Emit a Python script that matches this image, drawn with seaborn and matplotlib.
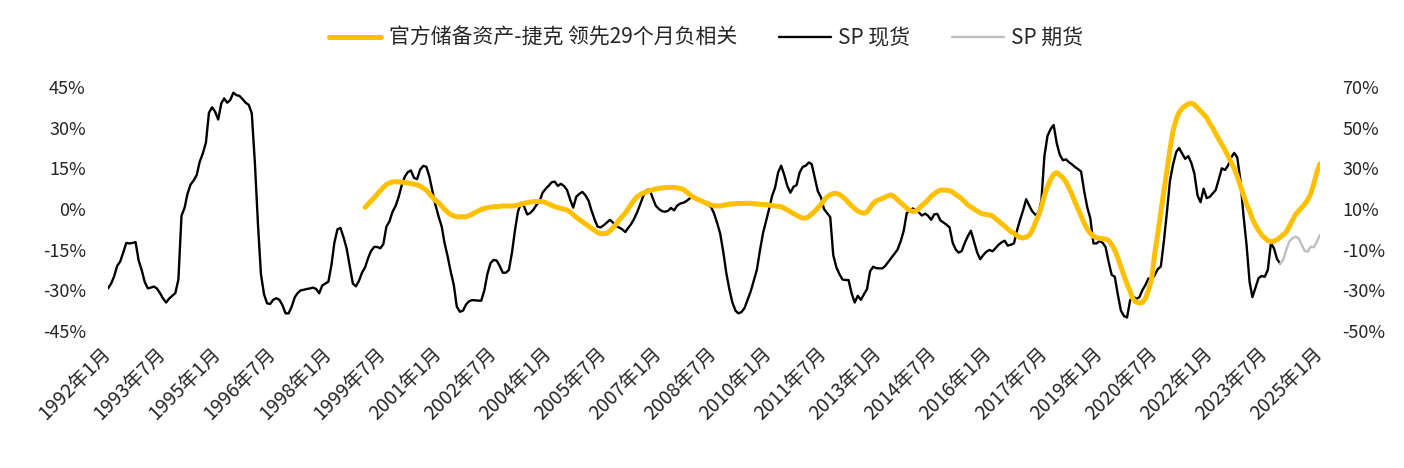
import pandas as pd
import matplotlib
matplotlib.use("Agg")
import matplotlib.pyplot as plt
from matplotlib.lines import Line2D
from matplotlib.ticker import FuncFormatter
import seaborn as sns

sns.set_theme(style="white")
plt.rcParams["font.family"] = ["Noto Sans CJK SC", "DejaVu Sans"]
plt.rcParams["axes.unicode_minus"] = False

# ---- data -------------------------------------------------------------
label_reserve = "官方储备资产-捷克 领先29个月负相关"
label_spot = "SP 现货"
label_futures = "SP 期货"

# SP spot, monthly YoY %, 1992-01 .. 2023-12 (left axis)
spot_start = "1992-01-01"
spot_values = [
    -29.3, -27.5, -25.0, -21.0, -19.4, -16.0, -12.5, -12.7, -12.5, -12.2, -19.0, -22.5,
    -27.0, -29.3, -29.0, -28.6, -29.3, -31.0, -33.0, -34.5, -33.0, -32.0, -31.0, -26.0,
    -2.5, 0.5, 5.5, 9.0, 10.5, 12.5, 17.4, 20.5, 24.5, 35.5, 37.5, 35.9,
    33.0, 39.0, 40.8, 39.2, 40.2, 42.9, 42.0, 41.7, 40.5, 39.2, 38.4, 35.3,
    16.9, -6.0, -24.0, -31.5, -34.8, -35.0, -33.5, -32.9, -33.5, -35.5, -38.5, -38.5,
    -36.0, -32.5, -31.0, -30.0, -29.8, -29.5, -29.3, -29.0, -29.5, -31.1, -28.2, -27.5,
    -26.8, -20.5, -12.5, -7.5, -7.0, -10.5, -14.5, -21.0, -27.5, -28.5, -26.5, -23.5,
    -21.5, -18.0, -15.5, -14.0, -14.0, -14.5, -13.0, -6.5, -4.5, -1.0, 1.2, 4.5,
    8.9, 12.0, 13.6, 14.2, 11.5, 11.0, 14.5, 15.9, 15.6, 12.0, 6.5, 1.5,
    -2.8, -6.5, -12.5, -17.5, -23.0, -28.0, -36.0, -37.9, -37.5, -35.2, -34.0, -33.6,
    -33.7, -33.8, -33.8, -30.0, -24.0, -20.0, -18.8, -19.0, -21.0, -23.5, -23.5, -22.5,
    -16.0, -7.5, -1.0, 2.3, 1.0, -2.0, -1.5, -0.3, 1.5, 2.7, 6.0, 7.4,
    8.6, 9.9, 10.1, 8.5, 9.3, 8.5, 7.0, 3.5, 0.5, 4.5, 5.6, 6.3,
    5.0, 3.0, -0.5, -3.8, -6.5, -6.8, -6.0, -5.0, -4.0, -5.0, -6.3, -6.8,
    -7.5, -8.5, -7.0, -5.5, -3.5, -1.0, 2.0, 5.0, 7.0, 7.2, 4.0, 1.2,
    0.0, -0.8, -1.0, -0.7, 0.4, -0.5, 1.2, 2.0, 2.3, 2.9, 3.8, 4.7,
    4.3, 3.6, 3.0, 2.3, 1.5, 0.8, -1.5, -5.0, -9.0, -15.5, -23.5, -29.5,
    -34.5, -37.5, -38.5, -38.0, -36.6, -33.5, -30.5, -26.5, -22.5, -15.5, -9.0, -4.5,
    0.0, 5.0, 7.8, 13.5, 16.0, 12.5, 8.5, 6.0, 8.2, 8.8, 13.5, 15.5,
    16.0, 17.2, 16.5, 11.5, 6.5, 4.3, 0.0, -1.5, -3.0, -17.0, -21.5, -24.0,
    -26.0, -26.2, -26.2, -31.1, -34.5, -32.0, -33.5, -31.5, -29.5, -23.0, -21.3, -21.8,
    -21.9, -21.9, -21.0, -19.5, -18.0, -16.5, -15.0, -12.0, -8.0, -1.5, -0.5, 0.2,
    -0.6, -1.4, -2.4, -1.7, -2.5, -4.0, -2.0, -1.8, -4.2, -5.0, -5.8, -6.8,
    -12.5, -15.0, -16.1, -15.5, -12.5, -10.0, -8.0, -12.0, -16.0, -18.5, -17.0, -15.8,
    -15.1, -15.6, -14.5, -13.2, -12.3, -11.7, -13.5, -13.2, -12.7, -8.0, -4.0, -0.5,
    3.6, 1.2, -0.8, -2.1, -1.6, 3.0, 19.5, 27.0, 29.5, 31.0, 24.2, 20.0,
    18.0, 18.3, 17.3, 16.5, 15.5, 14.7, 13.8, 6.5, 0.5, -3.5, -12.7, -12.7,
    -11.8, -12.5, -14.0, -19.5, -24.3, -25.0, -31.5, -37.5, -39.5, -40.0, -33.6, -32.2,
    -33.2, -32.5, -30.0, -28.0, -25.6, -26.0, -24.5, -22.2, -21.2, -12.0, -1.0, 10.5,
    16.5, 21.0, 22.5, 20.5, 18.5, 19.5, 17.0, 13.0, 5.0, 2.5, 7.5, 4.0,
    4.5, 5.8, 7.0, 11.0, 15.0, 14.4, 16.0, 19.0, 20.7, 19.0, 10.7, -2.0,
    -13.0, -27.0, -32.5, -29.0, -25.5, -24.7, -25.0, -22.5, -12.6, -14.5, -18.5, -20.1,
]

# SP futures, 2023-12 .. 2025-01 (left axis)
futures_start = "2023-12-01"
futures_values = [-20.1, -18.8, -15.0, -12.0, -10.8, -10.2, -10.8, -13.0,
                  -15.5, -15.7, -13.9, -14.1, -12.0, -9.6]

# Czech official reserve assets, shifted 29 months ahead, 1999-01 .. 2025-01 (right axis)
reserve_start = "1999-01-01"
reserve_values = [
    10.8, 12.5, 14.0, 15.5, 17.3, 19.0, 20.6, 22.0, 22.8, 23.3, 23.4, 23.3,
    23.2, 23.0, 22.8, 22.5, 22.2, 21.9, 21.2, 20.3, 19.2, 17.5, 15.8, 14.2,
    13.1, 11.5, 9.8, 8.4, 7.3, 6.6, 6.3, 6.1, 6.1, 6.2, 6.7, 7.5,
    8.3, 9.0, 9.8, 10.3, 10.6, 10.9, 11.1, 11.2, 11.3, 11.5, 11.5, 11.5,
    11.5, 11.6, 12.0, 12.4, 12.8, 13.1, 13.4, 13.6, 13.7, 13.7, 13.6, 13.1,
    12.5, 11.8, 11.2, 10.7, 10.3, 9.9, 9.5, 8.5, 7.2, 5.9, 4.8, 3.7,
    2.6, 1.5, 0.5, -0.5, -1.6, -2.1, -2.1, -1.9, -0.8, 0.7, 2.5, 4.5,
    6.3, 8.0, 10.1, 12.3, 14.5, 16.2, 17.1, 17.9, 18.5, 19.0, 19.5, 19.9,
    20.1, 20.3, 20.5, 20.6, 20.7, 20.6, 20.4, 20.1, 19.6, 18.5, 17.2, 16.0,
    15.2, 14.5, 13.8, 13.2, 12.6, 12.0, 11.6, 11.5, 11.5, 11.8, 12.1, 12.4,
    12.5, 12.6, 12.7, 12.7, 12.8, 12.8, 12.8, 12.6, 12.5, 12.3, 12.2, 12.1,
    11.9, 11.7, 11.5, 11.3, 11.1, 10.4, 9.5, 8.6, 7.7, 6.9, 6.1, 5.5,
    5.6, 6.3, 7.5, 8.9, 10.5, 12.3, 14.3, 16.0, 17.0, 17.6, 17.7, 17.1,
    16.1, 14.7, 13.1, 11.6, 10.2, 9.0, 8.3, 7.9, 8.6, 10.6, 12.8, 14.0,
    14.6, 15.2, 15.9, 16.6, 16.9, 16.0, 14.5, 13.1, 11.8, 10.4, 9.3, 8.7,
    9.0, 10.3, 11.8, 13.0, 14.5, 16.2, 17.5, 18.6, 19.3, 19.3, 19.2, 19.0,
    18.3, 17.1, 16.2, 15.0, 13.5, 12.0, 11.0, 10.0, 9.0, 8.1, 7.5, 7.3,
    7.1, 6.6, 5.3, 4.0, 2.8, 1.6, 0.2, -1.0, -2.0, -3.0, -4.0, -4.3,
    -3.8, -2.9, -0.5, 3.0, 6.5, 11.0, 16.5, 21.0, 24.5, 27.0, 27.9, 26.8,
    25.4, 23.2, 20.5, 17.2, 13.5, 10.0, 6.5, 3.0, 0.0, -2.0, -3.4, -4.1,
    -4.4, -4.6, -4.8, -5.5, -7.5, -10.2, -14.0, -18.5, -22.8, -27.0, -30.5, -34.5,
    -35.8, -36.2, -36.0, -34.0, -30.0, -24.5, -12.5, -2.5, 8.5, 18.5, 29.0, 39.5,
    48.5, 54.0, 57.5, 59.5, 60.7, 61.7, 62.0, 61.3, 59.8, 58.2, 56.6, 55.0,
    52.0, 49.7, 47.0, 44.3, 41.7, 39.0, 36.0, 33.0, 30.0, 26.0, 21.5, 17.0,
    12.5, 9.0, 5.0, 2.0, -0.5, -2.8, -4.2, -5.5, -6.1, -5.8, -5.1, -4.0,
    -2.6, -1.3, 1.4, 4.4, 7.2, 8.9, 10.6, 12.3, 14.5, 17.5, 22.5, 28.0,
    32.3,
]

left_ticks = [-45, -30, -15, 0, 15, 30, 45]
right_ticks = [-50, -30, -10, 10, 30, 50, 70]
x_start, x_end = "1992-01-01", "2025-01-01"

# ---- frames -------------------------------------------------------------
def monthly(start, values):
    return pd.DataFrame({"date": pd.date_range(start, periods=len(values), freq="MS"),
                         "value": values})

spot = monthly(spot_start, spot_values)
futures = monthly(futures_start, futures_values)
reserve = monthly(reserve_start, reserve_values)
tick_dates = pd.date_range(x_start, x_end, freq="18MS")

# ---- figure -------------------------------------------------------------
YELLOW = "#FFC000"
GREY = "#BFBFBF"
TEXT = "#262626"

fig = plt.figure(figsize=(14.04, 4.68), dpi=100)
ax = fig.add_axes([108 / 1404, 1 - 331 / 468, 1212 / 1404, 244 / 468])
ax2 = ax.twinx()

sns.lineplot(data=spot, x="date", y="value", ax=ax, color="black", lw=1.7)
sns.lineplot(data=futures, x="date", y="value", ax=ax, color=GREY, lw=1.7)
sns.lineplot(data=reserve, x="date", y="value", ax=ax2, color=YELLOW, lw=3.6,
             solid_capstyle="round")

ax.set_xlim(pd.Timestamp(x_start), pd.Timestamp(x_end))
ax.set_ylim(left_ticks[0], left_ticks[-1])
ax2.set_ylim(right_ticks[0], right_ticks[-1])
ax.set_yticks(left_ticks)
ax2.set_yticks(right_ticks)
pct = FuncFormatter(lambda v, _: f"{v:.0f}%")
ax.yaxis.set_major_formatter(pct)
ax2.yaxis.set_major_formatter(pct)

ax.set_xticks(tick_dates)
ax.set_xticklabels([f"{d.year}年{d.month}月" for d in tick_dates],
                   rotation=45, ha="right", va="center", rotation_mode="anchor")

for a in (ax, ax2):
    a.set_xlabel("")
    a.set_ylabel("")
    for s in a.spines.values():
        s.set_visible(False)
    a.tick_params(length=0, labelsize=13, colors=TEXT)
    a.grid(False)
ax.tick_params(axis="x", pad=14, labelsize=14)
ax.tick_params(axis="y", pad=16)
ax2.tick_params(axis="y", pad=16)

handles = [Line2D([], [], color=YELLOW, lw=3.6, solid_capstyle="round"),
           Line2D([], [], color="black", lw=1.7),
           Line2D([], [], color=GREY, lw=1.7)]
fig.legend(handles, [label_reserve, label_spot, label_futures],
           loc="center", bbox_to_anchor=(0.503, 1 - 38 / 468), ncol=3,
           frameon=False, fontsize=15, handlelength=2.5, handletextpad=0.35,
           columnspacing=2.0, labelcolor=TEXT)

fig.savefig("out.png", dpi=100)
